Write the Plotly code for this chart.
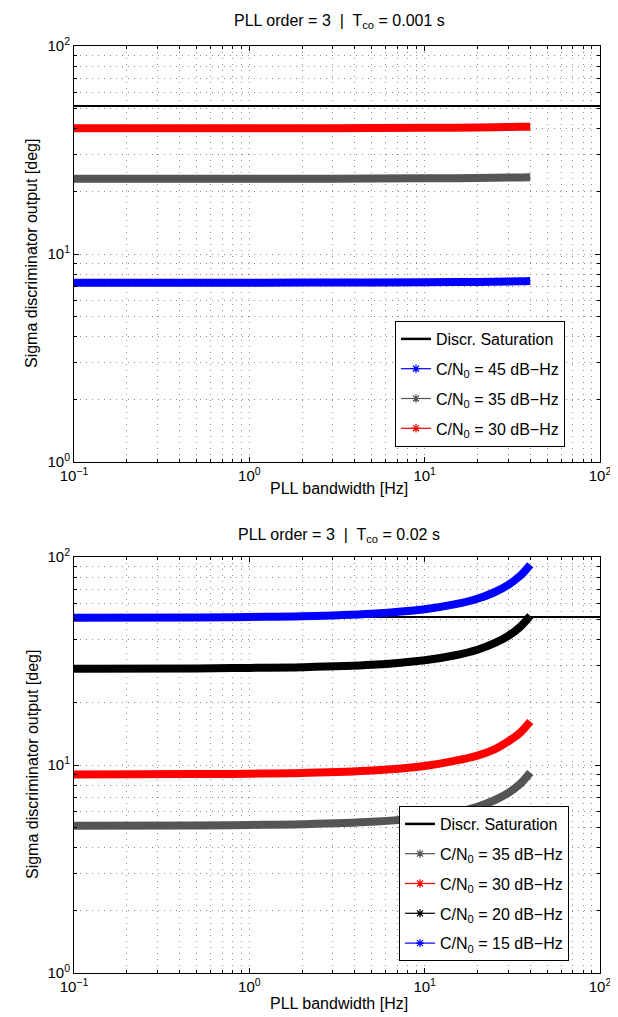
import plotly.graph_objects as go

# ---------------- data ----------------
bw = [0.1, 0.5, 1, 2, 5, 10, 15, 20, 25, 30, 35, 40]          # PLL bandwidth [Hz]
bw_sat = [0.1, 100]
saturation = [51.5, 51.5]                                         # Discr. saturation [deg]

# Top panel: T_co = 0.001 s
top_45 = [7.28, 7.28, 7.28, 7.29, 7.30, 7.31, 7.33, 7.34, 7.36, 7.38, 7.39, 7.41]
top_35 = [23.0, 23.0, 23.0, 23.0, 23.05, 23.1, 23.15, 23.2, 23.25, 23.3, 23.35, 23.4]
top_30 = [40.2, 40.2, 40.2, 40.25, 40.3, 40.4, 40.5, 40.55, 40.65, 40.75, 40.85, 40.9]

# Bottom panel: T_co = 0.02 s
bot_35 = [5.10, 5.12, 5.15, 5.19, 5.33, 5.60, 5.93, 6.30, 6.77, 7.35, 8.10, 9.20]
bot_30 = [9.00, 9.04, 9.08, 9.16, 9.41, 9.90, 10.5, 11.1, 11.9, 13.0, 14.3, 16.2]
bot_20 = [29.0, 29.1, 29.3, 29.5, 30.3, 31.9, 33.7, 35.8, 38.5, 41.8, 46.1, 52.2]
bot_15 = [51.0, 51.2, 51.5, 51.9, 53.4, 56.1, 59.3, 63.0, 67.7, 73.5, 81.1, 91.8]

titles = ["PLL order = 3  |  T<sub>co</sub> = 0.001 s",
          "PLL order = 3  |  T<sub>co</sub> = 0.02 s"]
xlabel = "PLL bandwidth [Hz]"
ylabel = "Sigma discriminator output [deg]"
xtick_vals = [0.1, 1, 10, 100]
xtick_text = ["10<sup>−1</sup>", "10<sup>0</sup>", "10<sup>1</sup>", "10<sup>2</sup>"]
ytick_vals = [1, 10, 100]
ytick_text = ["10<sup>0</sup>", "10<sup>1</sup>", "10<sup>2</sup>"]

BLUE = "#0000ff"
GRAY = "#555555"
RED = "#ff0000"
BLACK = "#000000"
GRID = "#8c8c8c"
FONT = "Liberation Sans, Arial, Helvetica, sans-serif"

fig = go.Figure()

def add_panel(xa, ya, legend, series, tag):
    fig.add_trace(go.Scatter(x=bw_sat, y=saturation, mode="lines",
                             line=dict(color=BLACK, width=2),
                             xaxis=xa, yaxis=ya, showlegend=False, hoverinfo="skip"))
    fig.add_trace(go.Scatter(x=[None], y=[None], mode="lines",
                             line=dict(color=BLACK, width=2.5),
                             name="Discr. Saturation", legend=legend,
                             legendgroup=tag + "sat",
                             xaxis=xa, yaxis=ya))
    for k, (name, vals, col) in enumerate(series):
        fig.add_trace(go.Scatter(x=bw, y=vals, mode="lines",
                                 line=dict(color=col, width=8, shape="spline"),
                                 xaxis=xa, yaxis=ya, showlegend=False, hoverinfo="skip"))
        fig.add_trace(go.Scatter(x=[None], y=[None], mode="lines+markers",
                                 line=dict(color=col, width=1.2),
                                 marker=dict(symbol="asterisk-open", size=7,
                                             line=dict(color=col, width=1.2)),
                                 name=name, legend=legend, legendgroup=tag + str(k),
                                 xaxis=xa, yaxis=ya))

add_panel("x", "y", "legend", [
    ("C/N<sub>0</sub> = 45 dB−Hz", top_45, BLUE),
    ("C/N<sub>0</sub> = 35 dB−Hz", top_35, GRAY),
    ("C/N<sub>0</sub> = 30 dB−Hz", top_30, RED),
], "t")
add_panel("x2", "y2", "legend2", [
    ("C/N<sub>0</sub> = 35 dB−Hz", bot_35, GRAY),
    ("C/N<sub>0</sub> = 30 dB−Hz", bot_30, RED),
    ("C/N<sub>0</sub> = 20 dB−Hz", bot_20, BLACK),
    ("C/N<sub>0</sub> = 15 dB−Hz", bot_15, BLUE),
], "b")

W, H = 618, 1017
xdom = [66 / W, 592 / W]
ydom_top = [1 - 454 / H, 1 - 38 / H]
ydom_bot = [1 - 965 / H, 1 - 549 / H]

minor_x = [m * 10 ** e for e in (-1, 0, 1) for m in range(2, 10)]
minor_y = [m * 10 ** e for e in (0, 1) for m in range(2, 10)]

grid_common = dict(showgrid=True, gridcolor=GRID, griddash="1px,5px", gridwidth=1)

def xaxis(anchor):
    return dict(type="log", range=[-1, 2], domain=xdom, anchor=anchor, automargin=False,
                tickvals=xtick_vals, ticktext=xtick_text,
                ticks="inside", ticklen=5, tickcolor=BLACK,
                showline=True, linecolor=BLACK, linewidth=1, mirror="allticks",
                zeroline=False,
                minor=dict(tickvals=minor_x, ticks="inside", ticklen=3, tickcolor=BLACK,
                           **grid_common),
                tickfont=dict(family=FONT, size=15, color=BLACK), **grid_common)

def yaxis(dom, anchor):
    return dict(type="log", range=[0, 2], domain=dom, anchor=anchor, automargin=False,
                tickvals=ytick_vals, ticktext=ytick_text,
                ticks="inside", ticklen=5, tickcolor=BLACK,
                showline=True, linecolor=BLACK, linewidth=1, mirror="allticks",
                zeroline=False,
                minor=dict(tickvals=minor_y, ticks="inside", ticklen=3, tickcolor=BLACK,
                           **grid_common),
                tickfont=dict(family=FONT, size=15, color=BLACK), **grid_common)

legend_style = dict(bgcolor="white", bordercolor=BLACK, borderwidth=1,
                    font=dict(family=FONT, size=16, color=BLACK),
                    xanchor="left", yanchor="top", tracegroupgap=6)

fig.update_layout(
    width=W, height=H,
    margin=dict(l=0, r=0, t=0, b=0, pad=0, autoexpand=False),
    paper_bgcolor="white", plot_bgcolor="white",
    font=dict(family=FONT, size=16, color=BLACK),
    xaxis=xaxis("y"), yaxis=yaxis(ydom_top, "x"),
    xaxis2=xaxis("y2"), yaxis2=yaxis(ydom_bot, "x2"),
    legend=dict(x=387 / W, y=1 - 313 / H, **legend_style),
    legend2=dict(x=391 / W, y=1 - 798 / H, **legend_style),
    showlegend=True,
)

ann = []
for t, ytitle, ylab, yax in [(titles[0], 13, 480, 246), (titles[1], 527, 995, 757)]:
    ann.append(dict(text=t, x=331 / W, y=1 - ytitle / H, xref="paper", yref="paper",
                    showarrow=False, xanchor="center", yanchor="middle",
                    font=dict(family=FONT, size=16, color=BLACK)))
    ann.append(dict(text=xlabel, x=331 / W, y=1 - ylab / H, xref="paper", yref="paper",
                    showarrow=False, xanchor="center", yanchor="middle",
                    font=dict(family=FONT, size=16, color=BLACK)))
    ann.append(dict(text=ylabel, x=24 / W, y=1 - yax / H, xref="paper", yref="paper",
                    showarrow=False, xanchor="center", yanchor="middle", textangle=-90,
                    font=dict(family=FONT, size=16, color=BLACK)))
fig.update_layout(annotations=ann)

fig.write_html("out.html")
